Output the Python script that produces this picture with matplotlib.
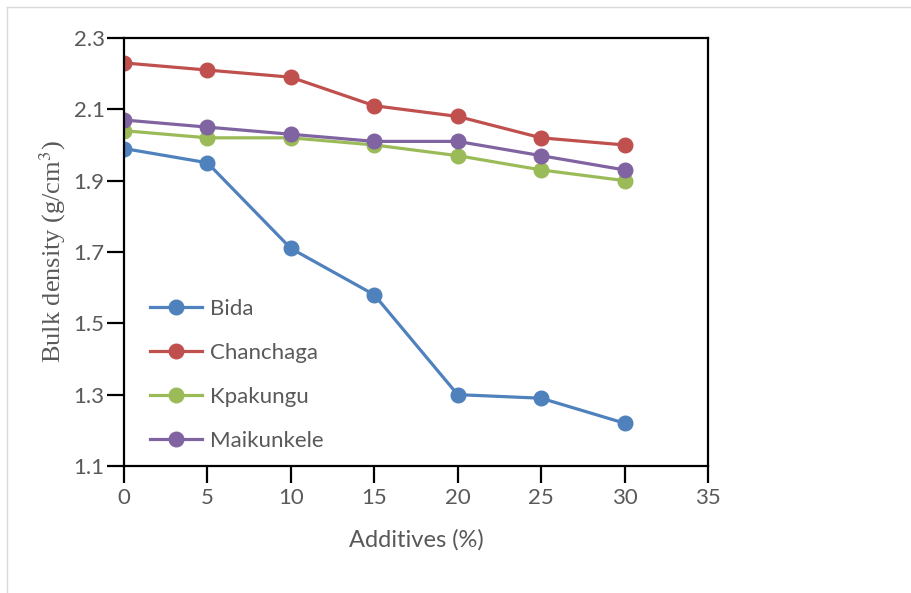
import matplotlib
matplotlib.use('Agg')
import matplotlib.pyplot as plt
from matplotlib.lines import Line2D

additives = [0, 5, 10, 15, 20, 25, 30]
bida = [1.99, 1.95, 1.71, 1.58, 1.30, 1.29, 1.22]
chanchaga = [2.23, 2.21, 2.19, 2.11, 2.08, 2.02, 2.00]
kpakungu = [2.04, 2.02, 2.02, 2.00, 1.97, 1.93, 1.90]
maikunkele = [2.07, 2.05, 2.03, 2.01, 2.01, 1.97, 1.93]
series_names = ['Bida', 'Chanchaga', 'Kpakungu', 'Maikunkele']
colors = ['#4F81BD', '#C0504D', '#9BBB59', '#8064A2']

x_ticks = [0, 5, 10, 15, 20, 25, 30, 35]
y_ticks = [1.1, 1.3, 1.5, 1.7, 1.9, 2.1, 2.3]

text_color = '#595959'
plt.rcParams['font.family'] = ['Lato', 'DejaVu Sans']
plt.rcParams['mathtext.fontset'] = 'stix'

fig = plt.figure(figsize=(9.11, 5.93), dpi=100)
ax = fig.add_axes([0.1361, 0.2142, 0.641, 0.7218])

for name, vals, c in zip(series_names, [bida, chanchaga, kpakungu, maikunkele], colors):
    ax.plot(additives, vals, color=c, lw=2.3, marker='o', markersize=10.5, label=name)

ax.set_xlim(0, 35)
ax.set_ylim(1.1, 2.3)
ax.set_xticks(x_ticks)
ax.set_yticks(y_ticks)
ax.set_yticklabels([f'{v:.1f}' for v in y_ticks])
ax.tick_params(axis='x', direction='out', length=12, width=1.6, colors='black',
               labelcolor=text_color, labelsize=16, pad=4)
ax.tick_params(axis='y', direction='out', length=12, width=1.6, colors='black',
               labelcolor=text_color, labelsize=16, pad=2)
for s in ax.spines.values():
    s.set_linewidth(1.6)
    s.set_color('black')

ax.set_xlabel('Additives (%)', fontsize=17, color=text_color, labelpad=15)
ax.set_ylabel('Bulk density (g/cm$^3$)', fontsize=19, color=text_color,
              family='Liberation Serif', labelpad=4)

leg = ax.legend(loc='lower left', bbox_to_anchor=(0.0445, 0.035), frameon=False,
                fontsize=16, labelcolor=text_color, handlelength=2.35,
                labelspacing=1.08, handletextpad=0.35, borderpad=0, borderaxespad=0)

# light page border
fig.add_artist(Line2D([7 / 911, 7 / 911], [0, 1 - 7 / 593], transform=fig.transFigure,
                      color='#d9d9d9', lw=1))
fig.add_artist(Line2D([7 / 911, 1], [1 - 7 / 593, 1 - 7 / 593], transform=fig.transFigure,
                      color='#d9d9d9', lw=1))

fig.savefig('out.png', dpi=100)
